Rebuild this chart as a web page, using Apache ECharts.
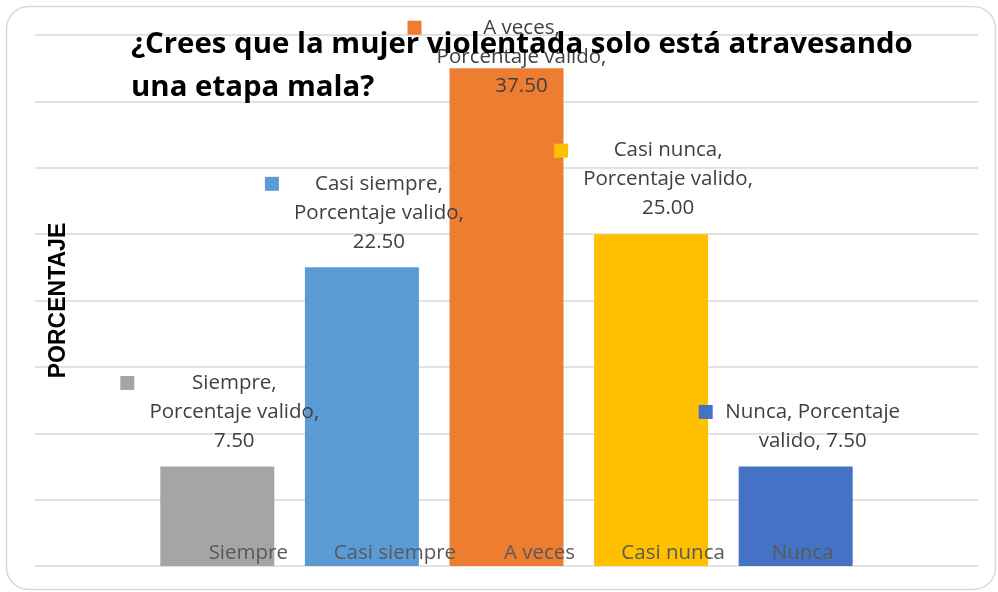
<!DOCTYPE html>
<html>
<head>
<meta charset="utf-8">
<script src="https://cdn.jsdelivr.net/npm/echarts@6/dist/echarts.min.js"></script>
<style>
  html, body { margin: 0; padding: 0; background: #fff; }
  #chart { width: 998px; height: 592px; }
</style>
</head>
<body>
<div id="chart"></div>
<script>
// datos
const categorias = ['Siempre', 'Casi siempre', 'A veces', 'Casi nunca', 'Nunca'];
const porcentajeValido = [7.5, 22.5, 37.5, 25.0, 7.5];
const colores = ['#a5a5a5', '#5b9bd5', '#ed7d31', '#ffc000', '#4472c4'];
const ejeY = { min: 0, max: 40, intervalo: 5 };
const titulo = '¿Crees que la mujer violentada solo está atravesando\nuna etapa mala?';
const nombreSerie = 'Porcentaje valido';

// desplazamiento de las etiquetas del eje x (estilo, como en el original)
const desplazaEtiqueta = [31, 33, 33, 22, 7];

const fuente = 'Open Sans';

const rich = {
    t: { width: 200, align: 'center', fontSize: 20.5, lineHeight: 29, color: '#404040', fontFamily: fuente },
    s: { width: 14 }
};
colores.forEach((c, i) => {
    rich['k' + i] = { width: 14, height: 14, backgroundColor: c };
});

function textoEtiqueta(p) {
    const v = p.value.toFixed(2);
    const lineas = p.name.length <= 5
        ? [p.name + ', ' + 'Porcentaje', 'valido, ' + v]
        : [p.name + ',', nombreSerie + ',', v];
    return lineas.map((l, j) => (j === 0 ? '{k' + p.dataIndex + '|}' : '{s|}') + '{t|' + l + '}{s|}').join('\n');
}

const datos = porcentajeValido.map((v, i) => {
    const item = { value: v, itemStyle: { color: colores[i] } };
    // la etiqueta mas alta queda recortada dentro del area del grafico
    if (v === Math.max(...porcentajeValido)) item.label = { offset: [15, 43] };
    return item;
});

const myChart = echarts.init(document.getElementById('chart'));
myChart.setOption({
    backgroundColor: '#ffffff',
    animation: false,
    title: {
        text: titulo,
        left: 131,
        top: 23,
        padding: 0,
        textStyle: { fontFamily: fuente, fontWeight: 'bold', fontSize: 29.4, lineHeight: 43, color: '#000000' }
    },
    graphic: [{
        type: 'rect',
        silent: true,
        z: -10,
        shape: { x: 6.5, y: 6.5, width: 989, height: 583, r: 22 },
        style: { fill: 'none', stroke: '#d9d9d9', lineWidth: 1.5 }
    }],
    grid: [
        { left: 35, right: 20, top: 35, bottom: 26 },
        { left: 145, right: 130, top: 35, bottom: 26 }
    ],
    xAxis: [
        { gridIndex: 0, type: 'value', min: 0, max: 1, show: false },
        {
            gridIndex: 1,
            type: 'category',
            data: categorias.map((c, i) => ({ value: c, textStyle: { padding: [0, 0, 0, 2 * desplazaEtiqueta[i]] } })),
            axisLine: { show: false },
            axisTick: { show: false },
            axisLabel: { inside: true, interval: 0, hideOverlap: false, margin: 2, color: '#595959', fontSize: 20.5, fontFamily: fuente },
            z: 10
        }
    ],
    yAxis: [
        {
            gridIndex: 0,
            type: 'value',
            min: ejeY.min,
            max: ejeY.max,
            interval: ejeY.intervalo,
            axisLine: { show: false },
            axisTick: { show: false },
            axisLabel: { show: false },
            splitLine: { lineStyle: { color: '#d9d9d9', width: 1.5 } }
        },
        {
            gridIndex: 1,
            type: 'value',
            min: ejeY.min,
            max: ejeY.max,
            interval: ejeY.intervalo,
            axisLine: { show: false },
            axisTick: { show: false },
            axisLabel: { show: false },
            splitLine: { show: false },
            name: 'PORCENTAJE',
            nameLocation: 'middle',
            nameGap: 75,
            nameTextStyle: { fontFamily: 'Liberation Sans', fontWeight: 'bold', fontSize: 23, color: '#000000' }
        }
    ],
    series: [{
        name: nombreSerie,
        type: 'bar',
        xAxisIndex: 1,
        yAxisIndex: 1,
        barWidth: 114,
        data: datos,
        label: {
            show: true,
            position: 'top',
            distance: 11,
            offset: [17, 0],
            formatter: textoEtiqueta,
            rich: rich
        }
    }]
});
</script>
</body>
</html>
